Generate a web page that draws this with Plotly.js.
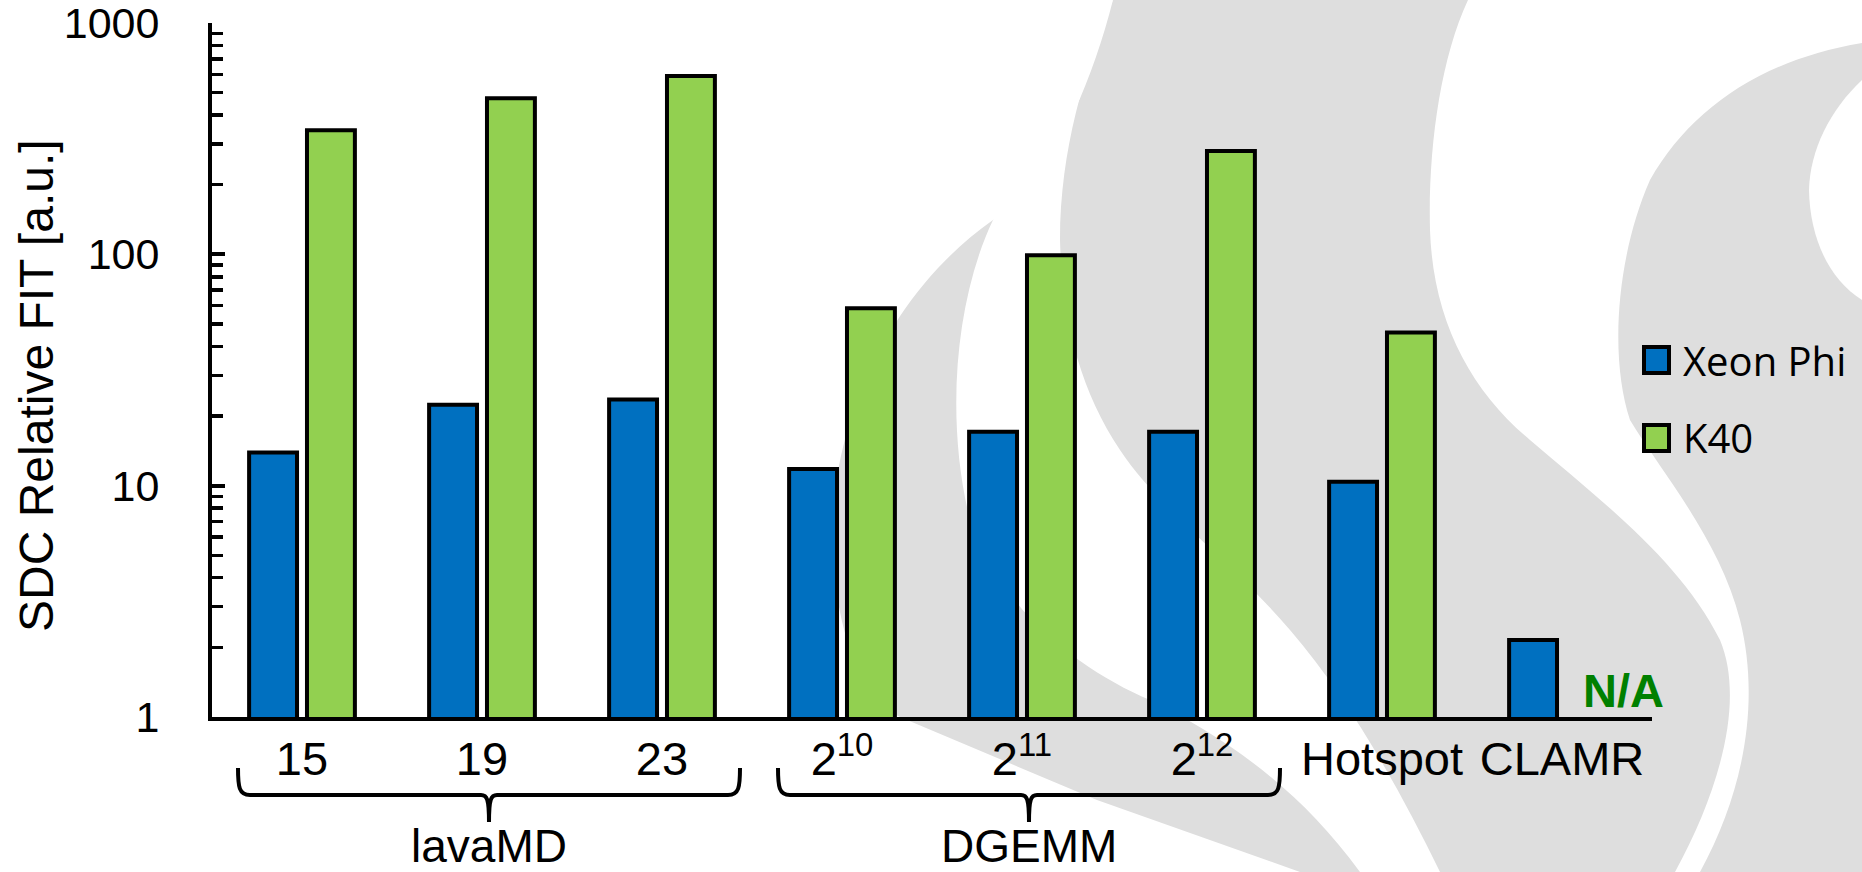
<!DOCTYPE html>
<html>
<head>
<meta charset="utf-8">
<script src="https://cdn.plot.ly/plotly-3.0.1.min.js"></script>
<style>
html, body { margin: 0; padding: 0; background: #ffffff; }
#chart { width: 1862px; height: 872px; }
</style>
</head>
<body>
<div id="chart"></div>
<script>
// ---------------- data ----------------
const categories = ['15', '19', '23', '2^10', '2^11', '2^12', 'Hotspot', 'CLAMR'];
const tickLabels = ['15', '19', '23', '2<sup>10</sup>', '2<sup>11</sup>', '2<sup>12</sup>', 'Hotspot', 'CLAMR'];
const xeonPhi = [13.9, 22.4, 23.6, 11.8, 17.1, 17.1, 10.4, 2.15];
const k40 = [344, 473, 590, 58.4, 99, 280, 45.9, null];
const seriesNames = ['Xeon Phi', 'K40'];
const seriesColors = ['#0070C0', '#92D050'];
const groupLabels = ['lavaMD', 'DGEMM'];
const groupFirst = [0, 3];
const groupLast = [2, 5];
const yTickVals = [1, 10, 100, 1000];
const yTickText = ['1', '10', '100', '1000'];
const naLabel = 'N/A';
const yTitle = 'SDC Relative FIT [a.u.]';

// ---------------- geometry ----------------
const W = 1862, H = 872;
const M = { l: 212, r: 210, t: 23, b: 155 };
const PW = W - M.l - M.r, PH = H - M.t - M.b;
const fx = x => (x - M.l) / PW;
const fy = y => (H - M.b - y) / PH;
const catPx = i => M.l + (i + 0.5) * PW / categories.length;

// convert a path given in pixel coordinates into paper coordinates
function pathPx(cmds) {
  return cmds.map(c => {
    if (typeof c === 'string') return c;
    return fx(c[0]).toFixed(5) + ',' + fy(c[1]).toFixed(5);
  }).join(' ');
}

const GRAY = '#dedede';
const shapes = [];

// background watermark (flame-like light gray pattern)
shapes.push({
  type: 'path', xref: 'paper', yref: 'paper', layer: 'below',
  fillcolor: GRAY, line: { width: 0 },
  path: pathPx(['M', [1113, 0], 'L', [1862, 0], 'L', [1862, 872], 'L', [1300, 872], 'L', [1097, 800], 'L', [900, 717],
    'C', [850, 690], [830, 600], [833, 520], 'C', [836, 430], [880, 300], [993, 220],
    'C', [1050, 180], [1090, 90], [1113, 0], 'Z'])
});
shapes.push({
  type: 'path', xref: 'paper', yref: 'paper', layer: 'below',
  fillcolor: '#ffffff', line: { width: 0 },
  path: pathPx(['M', [993, 220], 'C', [955, 300], [945, 420], [970, 520], 'C', [1000, 610], [1080, 670], [1150, 700],
    'C', [1230, 740], [1300, 790], [1360, 872], 'L', [1440, 872],
    'C', [1400, 790], [1350, 700], [1290, 630], 'C', [1230, 560], [1160, 510], [1120, 450],
    'C', [1080, 390], [1062, 320], [1060, 240], 'C', [1060, 150], [1085, 70], [1113, 0], 'Z'])
});
shapes.push({
  type: 'path', xref: 'paper', yref: 'paper', layer: 'below',
  fillcolor: '#ffffff', line: { width: 0 },
  path: pathPx(['M', [1468, 0], 'C', [1440, 60], [1428, 150], [1430, 230], 'C', [1433, 320], [1470, 390], [1530, 440],
    'C', [1600, 500], [1680, 560], [1720, 640], 'C', [1745, 700], [1720, 790], [1675, 872], 'L', [1700, 872],
    'C', [1745, 790], [1760, 700], [1740, 620], 'C', [1720, 540], [1660, 470], [1630, 420],
    'C', [1610, 360], [1615, 260], [1650, 180], 'C', [1690, 110], [1760, 60], [1862, 43], 'L', [1862, 0], 'Z'])
});
shapes.push({
  type: 'path', xref: 'paper', yref: 'paper', layer: 'below',
  fillcolor: '#ffffff', line: { width: 0 },
  path: pathPx(['M', [1862, 80], 'C', [1830, 110], [1810, 150], [1809, 190], 'C', [1810, 240], [1830, 280], [1862, 300], 'Z'])
});

// braces under category groups
const braceTop = 768, braceMid = 795, braceTip = 822;
const annotations = [];
for (let g = 0; g < groupLabels.length; g++) {
  const left = catPx(groupFirst[g]) - 64;
  const right = catPx(groupLast[g]) + 78;
  const mid = (left + right) / 2;
  shapes.push({
    type: 'path', xref: 'paper', yref: 'paper', layer: 'above',
    line: { color: '#000000', width: 4 }, fillcolor: 'rgba(0,0,0,0)',
    path: pathPx(['M', [left, braceTop], 'C', [left, braceMid - 8], [left + 1, braceMid], [left + 12, braceMid],
      'L', [mid - 8, braceMid], 'C', [mid - 2, braceMid], [mid, braceMid + 4], [mid, braceTip],
      'M', [mid, braceTip], 'C', [mid, braceMid + 4], [mid + 2, braceMid], [mid + 8, braceMid],
      'L', [right - 12, braceMid], 'C', [right - 1, braceMid], [right, braceMid - 8], [right, braceTop]])
  });
  annotations.push({
    xref: 'paper', yref: 'paper', x: fx(mid), y: fy(846), xanchor: 'center', yanchor: 'middle',
    text: groupLabels[g], showarrow: false,
    font: { family: 'Liberation Sans, Arial, sans-serif', size: 46, color: '#000000' }
  });
}

// custom legend (large square swatches)
const legendY = [360, 438];
for (let s = 0; s < seriesNames.length; s++) {
  shapes.push({
    type: 'rect', xref: 'paper', yref: 'paper', layer: 'above',
    x0: fx(1644), x1: fx(1669), y0: fy(legendY[s] - 13), y1: fy(legendY[s] + 13),
    fillcolor: seriesColors[s], line: { color: '#000000', width: 4 }
  });
  annotations.push({
    xref: 'paper', yref: 'paper', x: fx(1681), y: fy(legendY[s]), xanchor: 'left', yanchor: 'middle',
    text: seriesNames[s], showarrow: false,
    font: { family: 'Open Sans, sans-serif', size: 40, color: '#000000' }
  });
}

// N/A marker for missing K40 value
annotations.push({
  xref: 'x', yref: 'paper', x: categories[7], xshift: 61, y: fy(690), xanchor: 'center', yanchor: 'middle',
  text: '<b>' + naLabel + '</b>', showarrow: false,
  font: { family: 'Liberation Sans, Arial, sans-serif', size: 47, color: '#008000' }
});

// y-axis title (placed as rotated text so it can sit slightly below the plot centre, as in the reference)
annotations.push({
  xref: 'paper', yref: 'paper', x: fx(36), y: fy(386), xanchor: 'center', yanchor: 'middle',
  text: yTitle, textangle: -90, showarrow: false,
  font: { family: 'Liberation Sans, Arial, sans-serif', size: 48, color: '#000000' }
});

const traces = [
  { type: 'bar', name: seriesNames[0], x: categories, y: xeonPhi,
    marker: { color: seriesColors[0], line: { color: '#000000', width: 4 } }, showlegend: false, hoverinfo: 'x+y+name' },
  { type: 'bar', name: seriesNames[1], x: categories, y: k40,
    marker: { color: seriesColors[1], line: { color: '#000000', width: 4 } }, showlegend: false, hoverinfo: 'x+y+name' }
];

const layout = {
  width: W, height: H,
  margin: M,
  paper_bgcolor: '#ffffff',
  plot_bgcolor: 'rgba(0,0,0,0)',
  barmode: 'group',
  bargap: 0.357,
  bargroupgap: 0.172,
  showlegend: false,
  font: { family: 'Liberation Sans, Arial, sans-serif', color: '#000000' },
  xaxis: {
    type: 'category', range: [-0.5, 7.5],
    showline: true, linecolor: '#000000', linewidth: 4,
    showgrid: false, zeroline: false, ticks: '',
    tickmode: 'array', tickvals: categories, ticktext: tickLabels,
    tickfont: { family: 'Liberation Sans, Arial, sans-serif', size: 47, color: '#000000' },
    ticklabelstandoff: -2,
    ticklabeloverflow: 'allow',
    fixedrange: true
  },
  yaxis: {
    type: 'log', range: [0, 3],
    showline: true, linecolor: '#000000', linewidth: 4,
    showgrid: false, zeroline: false,
    tickmode: 'array', tickvals: yTickVals, ticktext: yTickText,
    ticks: 'inside', ticklen: 13, tickwidth: 4, tickcolor: '#000000',
    minor: { dtick: 'D1', ticks: 'inside', ticklen: 11, tickwidth: 3.5, tickcolor: '#000000', showgrid: false },
    tickfont: { family: 'Liberation Sans, Arial, sans-serif', size: 43, color: '#000000' },
    ticklabelstandoff: 40,
    ticklabeloverflow: 'allow',
    fixedrange: true
  },
  shapes: shapes,
  annotations: annotations
};

Plotly.newPlot('chart', traces, layout, { displayModeBar: false, staticPlot: true });
</script>
</body>
</html>
